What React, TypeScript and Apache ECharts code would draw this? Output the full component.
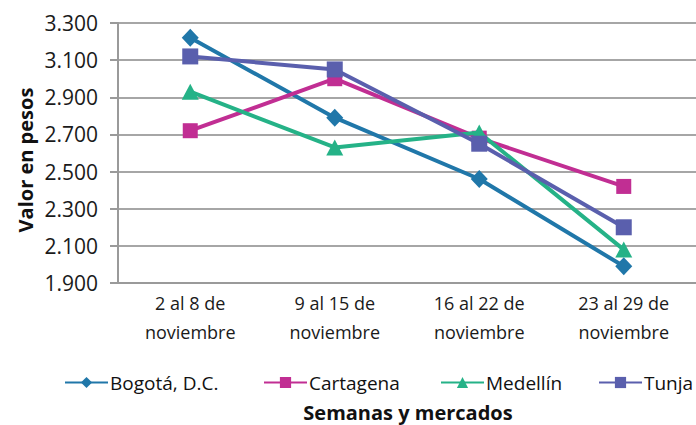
import React, { useEffect, useRef } from "react";
import * as echarts from "echarts";

const categories = [
  "2 al 8 de\nnoviembre",
  "9 al 15 de\nnoviembre",
  "16 al 22 de\nnoviembre",
  "23 al 29 de\nnoviembre",
];
const seriesNames = ["Bogotá, D.C.", "Cartagena", "Medellín", "Tunja"];
const bogota = [3220, 2790, 2460, 1990];
const cartagena = [2720, 3000, 2680, 2420];
const medellin = [2930, 2630, 2710, 2080];
const tunja = [3120, 3050, 2650, 2200];
const yMin = 1900;
const yMax = 3300;
const yStep = 200;
const xTitle = "Semanas y mercados";
const yTitle = "Valor en pesos";

const colors = ["#2077A9", "#C12E93", "#25B287", "#5A5FAD"];
const symbols = ["diamond", "rect", "triangle", "rect"];
const symbolSizes: any[] = [[17, 18], 15, [17, 16], 16];
const legendLefts = [64, 263, 440, 598];
const FONT = "'Open Sans', sans-serif";

function fmt(v: number): string {
  const s = String(Math.round(v));
  return s.replace(/\B(?=(\d{3})+(?!\d))/g, ".");
}

export default function App() {
  const ref = useRef<HTMLDivElement>(null);
  useEffect(() => {
    if (!ref.current) return;
    const chart = echarts.init(ref.current, null, { renderer: "svg" });
    const data = [bogota, cartagena, medellin, tunja];
    chart.setOption({
      animation: false,
      textStyle: { fontFamily: FONT },
      grid: { left: 118, width: 589, top: 23, bottom: 142, containLabel: false },
      legend: seriesNames.map((n, i) => ({
        data: [n],
        left: legendLefts[i],
        top: 373,
        padding: 0,
        itemWidth: 43,
        itemHeight: 14,
        itemGap: 2,
        textStyle: { fontFamily: FONT, fontSize: 19, color: "#111", padding: [0, 0, 0, -3] },
      })),
      graphic: [
        {
          type: "text",
          x: 408,
          y: 412,
          style: {
            text: xTitle,
            fontFamily: FONT,
            fontWeight: "bold",
            fontSize: 20,
            fill: "#111",
            align: "center",
            verticalAlign: "middle",
          },
        },
        {
          type: "text",
          x: 25,
          y: 160,
          rotation: Math.PI / 2,
          style: {
            text: yTitle,
            fontFamily: FONT,
            fontWeight: "bold",
            fontSize: 20,
            fill: "#111",
            align: "center",
            verticalAlign: "middle",
          },
        },
      ],
      xAxis: {
        type: "category",
        data: categories,
        boundaryGap: true,
        axisLine: { lineStyle: { color: "#9a9a9a", width: 2 } },
        axisTick: { show: false },
        axisLabel: {
          fontFamily: FONT,
          fontSize: 18,
          color: "#1a1a1a",
          lineHeight: 29,
          margin: 5,
        },
      },
      yAxis: {
        type: "value",
        min: yMin,
        max: yMax,
        interval: yStep,
        axisLine: { show: true, lineStyle: { color: "#9a9a9a", width: 2 } },
        axisTick: { show: true, length: 8, lineStyle: { color: "#9a9a9a", width: 2 } },
        splitLine: { show: true, lineStyle: { color: "#a6a6a6", width: 2 } },
        axisLabel: {
          fontFamily: FONT,
          fontSize: 21,
          color: "#1a1a1a",
          margin: 20,
          formatter: (v: number) => fmt(v),
        },
      },
      series: seriesNames.map((n, i) => ({
        name: n,
        type: "line",
        data: data[i],
        symbol: symbols[i],
        symbolSize: symbolSizes[i],
        showAllSymbol: true,
        lineStyle: { color: colors[i], width: 4 },
        itemStyle: { color: colors[i] },
        z: 2 + i,
      })),
    });
    return () => chart.dispose();
  }, []);
  return (
    <div
      ref={ref}
      style={{ position: "absolute", left: 0, top: 0, width: 696, height: 425, background: "#fff" }}
    />
  );
}
